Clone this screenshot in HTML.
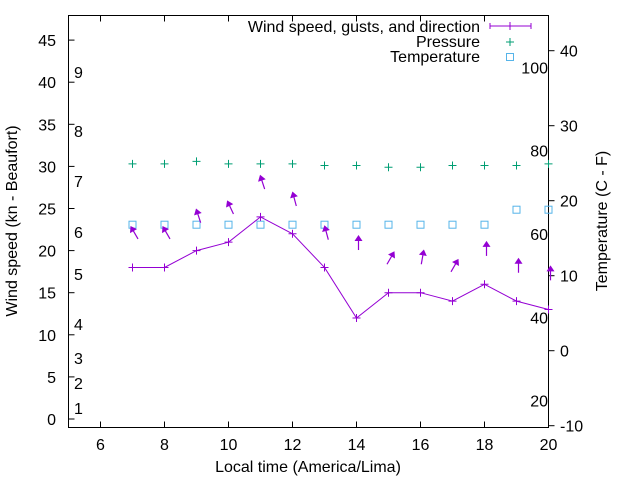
<!DOCTYPE html>
<html><head><meta charset="utf-8"><style>
body{margin:0;background:#fff}
svg{display:block;font-family:"Liberation Sans",sans-serif}
text{fill:#000}
</style></head><body>
<svg id="chart" width="640" height="480" viewBox="0 0 640 480"></svg>
<script>
const hours=[7,8,9,10,11,12,13,14,15,16,17,18,19,20];
const windSpeed=[18,18,20,21,24,22,18,12,15,15,14,16,14,13];
const gusts=[22.1,22.1,24.1,25.1,28.1,26.1,22.1,20.9,19.1,19.2,18.2,20.2,18.2,17.3];
const gustDir=[-30,-30,-18,-25,-18,-15,-15,0,30,10,30,0,0,0];
const pressure=[30.3,30.3,30.6,30.3,30.3,30.3,30.1,30.1,29.9,29.9,30.1,30.1,30.1,30.3];
const temperature=[16.8,16.8,16.8,16.8,16.8,16.8,16.8,16.8,16.8,16.8,16.8,16.8,18.8,18.8];
const xTicks=[6,8,10,12,14,16,18,20];
const yTicks=[0,5,10,15,20,25,30,35,40,45];
const y2Ticks=[-10,0,10,20,30,40];
const beaufort=[[1,408],[2,383],[3,358],[4,324],[5,274],[6,232],[7,181],[8,131],[9,72]];
const fTicks=[20,40,60,80,100];

const L=68.5,R=548.5,T=15.5,B=427.5;
const xs=v=>L+(v-5)*(R-L)/15;
const ys=v=>419-v*8.42;
const y2=v=>425.7-(v+10)*7.5;
const svg=document.getElementById('chart');
const NS='http://www.w3.org/2000/svg';
function mk(tag,attrs,parent){const e=document.createElementNS(NS,tag);for(const k in attrs)e.setAttribute(k,attrs[k]);(parent||svg).appendChild(e);return e;}
function txt(s,x,y,anchor,size,parent){const t=mk('text',{x:x,y:y,'text-anchor':anchor,'font-size':size||16},parent);t.textContent=s;return t;}

const frame=mk('rect',{x:L,y:T,width:R-L,height:B-T,fill:'none',stroke:'#000','stroke-width':1});



const xg=mk('g',{});


xTicks.forEach(v=>{const x=xs(v);
 mk('line',{x1:x,x2:x,y1:B,y2:B-6,stroke:'#000'},xg);
 mk('line',{x1:x,x2:x,y1:T,y2:T+6,stroke:'#000'},xg);
 const t=txt(String(v),x,450,'middle',16,xg);
 
 });
const yg=mk('g',{});


yTicks.forEach(v=>{const y=ys(v);
 mk('line',{x1:L,x2:L+6,y1:y,y2:y,stroke:'#000'},yg);
 const t=txt(String(v),56,y+6,'end',16,yg);
 
 });
const y2g=mk('g',{});


y2Ticks.forEach(v=>{const y=y2(v);
 mk('line',{x1:R,x2:R+6,y1:y,y2:y,stroke:'#000'},y2g);
 const t=txt(String(v),560,y+6,'start',16,y2g);
 
 });
beaufort.forEach(b=>{const t=txt(String(b[0]),74,b[1]+6,'start',16);
 
 });
fTicks.forEach(f=>{const c=(f-32)*5/9;const t=txt(String(f),548,y2(c)+6,'end',16);
 
 });

const xt=txt('Local time (America/Lima)',308,472,'middle',16);


const yt=txt('Wind speed (kn - Beaufort)',0,0,'middle',16);
yt.setAttribute('transform','translate(17,221) rotate(-90)');


const y2t=txt('Temperature (C - F)',0,0,'middle',16);
y2t.setAttribute('transform','translate(607,221) rotate(-90)');



pressure.forEach((v,i)=>{const x=xs(hours[i]),y=ys(v);
 const p=mk('path',{d:`M${x-4},${y}H${x+4}M${x},${y-4}V${y+4}`,stroke:'#009e73','stroke-width':1});
 
 });
temperature.forEach((v,i)=>{const x=xs(hours[i]),y=y2(v);
 const r=mk('rect',{x:x-3.5,y:y-3.5,width:7,height:7,fill:'none',stroke:'#56b4e9','stroke-width':1});
 
 });
const wl=mk('polyline',{points:hours.map((h,i)=>xs(h)+','+ys(windSpeed[i])).join(' '),fill:'none',stroke:'#9400d3','stroke-width':1});


windSpeed.forEach((v,i)=>{const x=xs(hours[i]),y=ys(v);
 const p=mk('path',{d:`M${x-4},${y}H${x+4}M${x},${y-4}V${y+4}`,stroke:'#9400d3','stroke-width':1});
 
 });
gusts.forEach((v,i)=>{const x=xs(hours[i])+2,y=ys(v);
 const g=mk('g',{transform:`translate(${x},${y}) rotate(${gustDir[i]})`});
 
 
 mk('line',{x1:0,y1:7,x2:0,y2:-5,stroke:'#9400d3','stroke-width':1.2},g);
 mk('path',{d:'M0,-8 L-4,-2 L4,-2 Z',fill:'#9400d3'},g);});

const lg=mk('g',{});


[['Wind speed, gusts, and direction',26],['Pressure',41],['Temperature',56]].forEach(r=>txt(r[0],480,r[1]+6,'end',16,lg));
mk('path',{d:'M490,26H531M490,23V29M531,23V29M510,22V30',stroke:'#9400d3','stroke-width':1},lg);
mk('path',{d:'M506,42H514M510,38V46',stroke:'#009e73','stroke-width':1},lg);
mk('rect',{x:506.5,y:53.5,width:7,height:7,fill:'none',stroke:'#56b4e9'},lg);
</script>
</body></html>
